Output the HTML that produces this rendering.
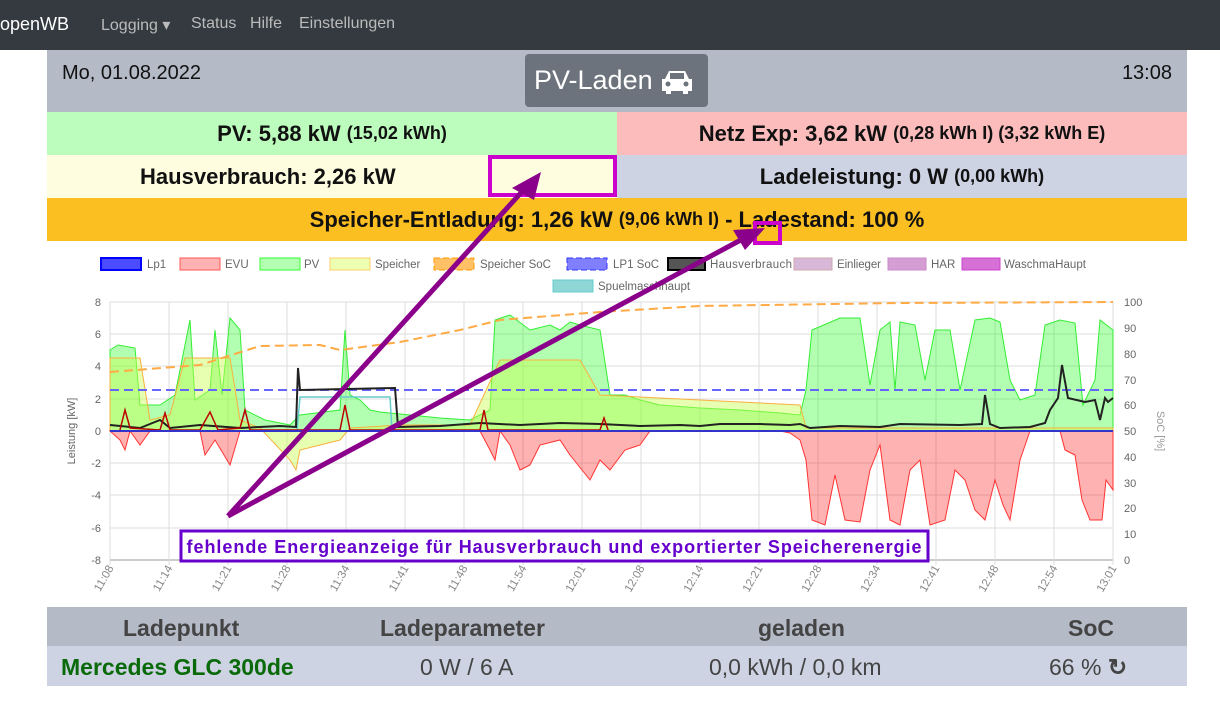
<!DOCTYPE html>
<html><head><meta charset="utf-8"><style>
*{box-sizing:border-box;margin:0;padding:0}
body{width:1220px;height:701px;background:#fff;font-family:"Liberation Sans",sans-serif;position:relative;overflow:hidden}
.nav{position:absolute;left:0;top:0;width:1220px;height:50px;background:#343a40;color:#bbb;font-size:16px}
.nav span{position:absolute;top:15px}
.b{position:absolute;left:47px;width:1140px;display:flex;align-items:center;justify-content:center;font-weight:bold;font-size:22px;color:#111}
.b small{font-size:18px}
</style></head><body>
<div class="nav"><span style="left:0;color:#fff;font-size:18px;top:14px">openWB</span><span style="left:101px">Logging ▾</span><span style="left:191px">Status</span><span style="left:250px">Hilfe</span><span style="left:299px">Einstellungen</span></div>
<div style="position:absolute;left:47px;top:50px;width:1140px;height:62px;background:#b5bac7"></div>
<div style="position:absolute;left:62px;top:62px;font-size:20px;color:#111">Mo, 01.08.2022</div>
<div style="position:absolute;right:48px;top:62px;font-size:20px;color:#111">13:08</div>
<div style="position:absolute;left:525px;top:54px;width:183px;height:53px;background:#6c737c;border-radius:4px;color:#fff;font-size:27px;line-height:53px;padding-left:9px">PV-Laden</div>
<svg style="position:absolute;left:660px;top:69px" width="34" height="26"><path d="M5,10 L9,2 H25 L29,10 H32 V22 H28 V25 H23 V22 H11 V25 H6 V22 H2 V10 Z" fill="#fff"/><rect x="10" y="4" width="14" height="6" fill="#6c737c"/><circle cx="8" cy="15" r="2.5" fill="#6c737c"/><circle cx="26" cy="15" r="2.5" fill="#6c737c"/></svg>
<div class="b" style="top:112px;height:43px;width:570px;background:#bcfcbc">PV: 5,88 kW&nbsp;<small>(15,02 kWh)</small></div>
<div class="b" style="top:112px;height:43px;left:617px;width:570px;background:#fcbcbc">Netz Exp: 3,62 kW&nbsp;<small>(0,28 kWh I) (3,32 kWh E)</small></div>
<div class="b" style="top:155px;height:43px;width:570px;background:#fefde0">Hausverbrauch: 2,26 kW&nbsp;&nbsp;&nbsp;&nbsp;&nbsp;&nbsp;&nbsp;&nbsp;&nbsp;&nbsp;&nbsp;&nbsp;&nbsp;&nbsp;&nbsp;&nbsp;&nbsp;&nbsp;&nbsp;&nbsp;&nbsp;</div>
<div class="b" style="top:155px;height:43px;left:617px;width:570px;background:#cdd3e3">Ladeleistung: 0 W&nbsp;<small>(0,00 kWh)</small></div>
<div class="b" style="top:198px;height:43px;background:#fcbf22">Speicher-Entladung: 1,26 kW&nbsp;<small>(9,06 kWh I)</small>&nbsp;- Ladestand: 100 %</div>
<svg style="position:absolute;left:0;top:0" width="1220" height="701" font-family="Liberation Sans,sans-serif">
<g font-size="11.5" fill="#666">
<rect x="101" y="258" width="40" height="12" fill="rgba(0,0,255,.7)" stroke="#00f" stroke-width="2"/><text x="147" y="268">Lp1</text>
<rect x="180" y="258" width="40" height="12" fill="rgba(255,0,0,.3)" stroke="#f55"/><text x="225" y="268">EVU</text>
<rect x="260" y="258" width="40" height="12" fill="rgba(0,255,0,.3)" stroke="#3f3"/><text x="304" y="268">PV</text>
<rect x="330" y="258" width="40" height="12" fill="rgba(220,255,100,.5)" stroke="#fc6"/><text x="375" y="268">Speicher</text>
<rect x="434" y="258" width="40" height="12" fill="rgba(255,150,0,.6)" stroke="#f90" stroke-dasharray="6 3"/><text x="480" y="268">Speicher SoC</text>
<rect x="567" y="258" width="40" height="12" fill="rgba(0,0,255,.5)" stroke="#33f" stroke-dasharray="6 3"/><text x="613" y="268">LP1 SoC</text>
<rect x="668" y="258" width="37" height="12" fill="#555" stroke="#000" stroke-width="2"/><text x="710" y="268" textLength="82">Hausverbrauch</text>
<rect x="794" y="258" width="38" height="12" fill="#d8b8d8" stroke="#caa"/><text x="837" y="268" textLength="44">Einlieger</text>
<rect x="888" y="258" width="38" height="12" fill="#d49ed4" stroke="#c8c"/><text x="931" y="268">HAR</text>
<rect x="962" y="258" width="38" height="12" fill="#d670d6" stroke="#c4c"/><text x="1004" y="268" textLength="82">WaschmaHaupt</text>
<rect x="553" y="280" width="40" height="12" fill="#8fd6d6" stroke="#6cc"/><text x="598" y="290">Spuelmaschhaupt</text>
</g>
<g stroke="#ddd" stroke-width="1">
<line x1="110" x2="1113" y1="302" y2="302"/><line x1="110" x2="1113" y1="334" y2="334"/><line x1="110" x2="1113" y1="366" y2="366"/><line x1="110" x2="1113" y1="399" y2="399"/><line x1="110" x2="1113" y1="463" y2="463"/><line x1="110" x2="1113" y1="495" y2="495"/><line x1="110" x2="1113" y1="528" y2="528"/>
<line x1="110" x2="1113" y1="560" y2="560" stroke="#999"/>
<line x1="110" y1="302" x2="110" y2="565"/><line x1="169" y1="302" x2="169" y2="565"/><line x1="228" y1="302" x2="228" y2="565"/><line x1="287" y1="302" x2="287" y2="565"/><line x1="346" y1="302" x2="346" y2="565"/><line x1="405" y1="302" x2="405" y2="565"/><line x1="464" y1="302" x2="464" y2="565"/><line x1="523" y1="302" x2="523" y2="565"/><line x1="582" y1="302" x2="582" y2="565"/><line x1="641" y1="302" x2="641" y2="565"/><line x1="700" y1="302" x2="700" y2="565"/><line x1="759" y1="302" x2="759" y2="565"/><line x1="818" y1="302" x2="818" y2="565"/><line x1="877" y1="302" x2="877" y2="565"/><line x1="936" y1="302" x2="936" y2="565"/><line x1="995" y1="302" x2="995" y2="565"/><line x1="1054" y1="302" x2="1054" y2="565"/><line x1="1113" y1="302" x2="1113" y2="565"/>
</g>
<polygon fill="rgba(0,255,0,.3)" stroke="#3e3" stroke-width="1" points="110,350 118,345 135,348 140,405 160,405 175,395 185,345 190,320 195,400 210,390 215,330 222,395 230,318 240,330 245,410 265,420 290,425 300,415 340,410 345,330 350,395 360,400 370,410 380,412 400,414 420,416 440,418 470,420 490,410 495,320 510,315 530,330 550,325 560,330 570,322 580,325 600,330 610,395 625,395 640,400 660,405 700,408 740,410 780,413 800,415 806,390 812,330 840,318 860,318 870,385 880,330 890,322 895,390 900,322 915,325 925,380 935,330 950,330 960,390 975,320 990,318 1000,322 1010,380 1020,400 1035,395 1045,325 1060,320 1075,323 1083,405 1095,380 1100,320 1113,330 1113,431 110,431"/>
<polygon fill="rgba(200,255,80,.45)" stroke="#f9b040" stroke-width="1" points="110,358 140,358 150,420 170,415 185,358 230,358 240,420 260,428 290,460 296,470 300,450 340,440 350,428 400,425 470,425 500,360 580,360 600,395 700,400 800,405 806,428 1113,428 1113,431 110,431"/>
<polygon fill="rgba(255,0,0,.3)" stroke="#f33" stroke-width="1" points="110,431 120,440 125,450 130,431 140,445 150,431 200,431 205,455 215,440 230,465 240,431 480,431 490,450 495,460 500,431 510,445 520,470 530,465 540,445 560,440 570,455 590,480 600,460 610,470 625,450 640,445 650,431 780,431 790,433 800,440 806,460 812,520 825,525 835,475 845,520 860,522 870,470 880,445 890,520 900,525 910,470 920,460 930,525 945,520 955,470 965,480 975,510 985,520 995,480 1003,505 1010,520 1020,460 1030,431 1060,431 1065,450 1075,455 1082,500 1090,520 1102,520 1106,480 1113,490 1113,431"/>
<path d="M110,372 200,365 260,346 320,345 340,350 400,342 460,330 500,320 600,312 700,306 900,303 1113,302" fill="none" stroke="#fa4" stroke-width="2" stroke-dasharray="9 5"/>
<line x1="110" x2="1113" y1="390" y2="390" stroke="#66f" stroke-width="2" stroke-dasharray="9 5"/>
<path d="M297,431 300,397 390,397 392,431" fill="none" stroke="#6cc" stroke-width="1.5"/>
<path d="M110,425 140,428 160,420 170,428 200,425 240,428 280,426 296,427 298,368 300,390 395,388 398,427 440,426 480,423 520,425 560,423 600,424 640,426 680,425 700,426 720,424 760,424 790,425 800,424 810,428 840,426 880,427 900,424 960,425 982,424 985,395 990,424 1000,428 1030,427 1045,423 1050,410 1058,398 1062,365 1068,398 1085,402 1095,400 1100,420 1105,398 1108,402 1113,398" fill="none" stroke="#222" stroke-width="2"/>
<path d="M120,430 125,410 130,428 160,430 165,413 170,430 200,430 210,412 218,430 240,428 245,410 250,430 340,430 345,405 350,430 480,430 484,410 488,430 600,430 604,418 608,430" fill="none" stroke="#b00" stroke-width="1.5"/>
<line x1="110" x2="1113" y1="431" y2="431" stroke="#33c" stroke-width="2"/>
<g font-size="11" fill="#666" text-anchor="end">
<text x="101" y="306">8</text><text x="101" y="338">6</text><text x="101" y="370">4</text><text x="101" y="403">2</text><text x="101" y="435">0</text><text x="101" y="467">-2</text><text x="101" y="499">-4</text><text x="101" y="532">-6</text><text x="101" y="564">-8</text>
</g>
<g font-size="11" fill="#666">
<text x="1124" y="306">100</text><text x="1124" y="332">90</text><text x="1124" y="358">80</text><text x="1124" y="384">70</text><text x="1124" y="409">60</text><text x="1124" y="435">50</text><text x="1124" y="461">40</text><text x="1124" y="487">30</text><text x="1124" y="512">20</text><text x="1124" y="538">10</text><text x="1124" y="564">0</text>
</g>
<text transform="translate(75,431) rotate(-90)" font-size="11" fill="#666" text-anchor="middle">Leistung [kW]</text>
<text transform="translate(1157,431) rotate(90)" font-size="11" fill="#999" text-anchor="middle">SoC [%]</text>
<g font-size="11.5" fill="#888" text-anchor="end">
<text transform="translate(114,568) rotate(-60)">11:08</text><text transform="translate(173,568) rotate(-60)">11:14</text><text transform="translate(232,568) rotate(-60)">11:21</text><text transform="translate(291,568) rotate(-60)">11:28</text><text transform="translate(350,568) rotate(-60)">11:34</text><text transform="translate(409,568) rotate(-60)">11:41</text><text transform="translate(468,568) rotate(-60)">11:48</text><text transform="translate(527,568) rotate(-60)">11:54</text><text transform="translate(586,568) rotate(-60)">12:01</text><text transform="translate(645,568) rotate(-60)">12:08</text><text transform="translate(704,568) rotate(-60)">12:14</text><text transform="translate(763,568) rotate(-60)">12:21</text><text transform="translate(822,568) rotate(-60)">12:28</text><text transform="translate(881,568) rotate(-60)">12:34</text><text transform="translate(940,568) rotate(-60)">12:41</text><text transform="translate(999,568) rotate(-60)">12:48</text><text transform="translate(1058,568) rotate(-60)">12:54</text><text transform="translate(1117,568) rotate(-60)">13:01</text><text transform="translate(1117,568) rotate(-60)" dx="-0">&#8203;</text>
</g>
<text transform="translate(1118,566) rotate(-60)" font-size="11.5" fill="#888" text-anchor="end" dy="0" dx="0" style="display:none">13:08</text>
<rect x="490" y="157" width="125" height="38" fill="none" stroke="#c0c" stroke-width="4"/>
<rect x="755" y="223" width="25" height="20" fill="none" stroke="#c0c" stroke-width="4"/>
<g stroke="#8b008b" stroke-width="5" fill="#8b008b">
<line x1="228" y1="516" x2="528" y2="185"/><line x1="228" y1="516" x2="750" y2="235"/>
</g>
<polygon points="541,172 512,188 534,200" fill="#8b008b"/>
<polygon points="765,228 733,230 745,250" fill="#8b008b"/>
<rect x="181" y="531" width="747" height="30" fill="#fff" stroke="#60c" stroke-width="3"/>
<text x="554" y="553" font-size="18" font-weight="bold" fill="#60c" text-anchor="middle" textLength="735">fehlende Energieanzeige für Hausverbrauch und exportierter Speicherenergie</text>
</svg>
<div style="position:absolute;left:47px;top:607px;width:1140px;height:39px;background:#b5bac7;font-weight:bold;font-size:23px;color:#444">
<span style="position:absolute;left:76px;top:8px">Ladepunkt</span><span style="position:absolute;left:333px;top:8px">Ladeparameter</span><span style="position:absolute;left:711px;top:8px">geladen</span><span style="position:absolute;left:1021px;top:8px">SoC</span></div>
<div style="position:absolute;left:47px;top:646px;width:1140px;height:40px;background:#cdd3e3;font-size:23px;color:#444">
<span style="position:absolute;left:14px;top:8px;font-weight:bold;color:#0a6a0a">Mercedes GLC 300de</span><span style="position:absolute;left:373px;top:8px">0 W / 6 A</span><span style="position:absolute;left:662px;top:8px">0,0 kWh / 0,0 km</span><span style="position:absolute;left:1002px;top:8px">66 % <b>↻</b></span></div>
</body></html>
